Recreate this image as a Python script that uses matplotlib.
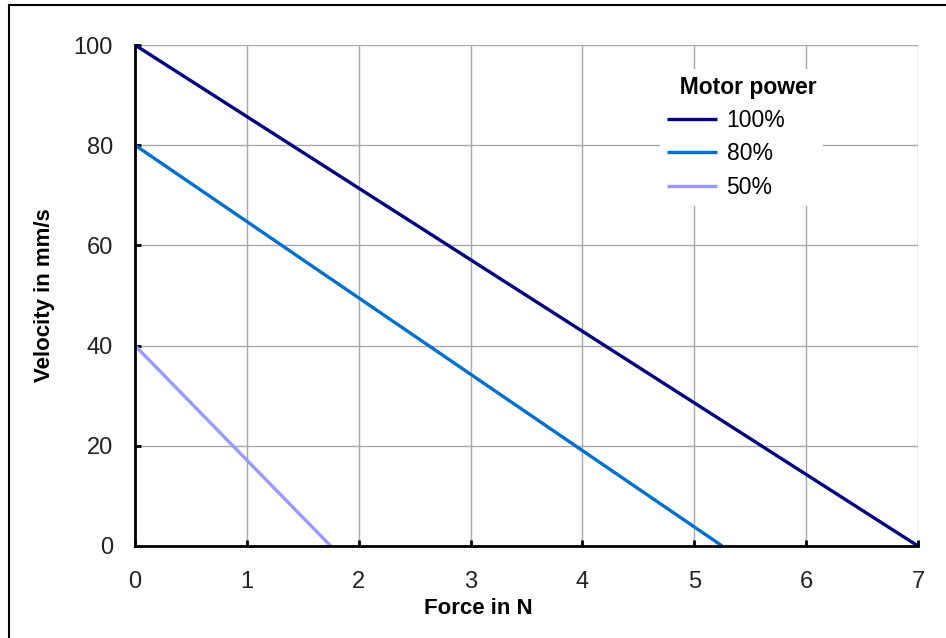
import matplotlib
matplotlib.use("Agg")
import matplotlib.pyplot as plt
from matplotlib.lines import Line2D

# Data: straight force/velocity lines per motor power
series_labels = ["100%", "80%", "50%"]
force_100 = [0, 7.0]
velocity_100 = [100, 0]
force_80 = [0, 5.25]
velocity_80 = [80, 0]
force_50 = [0, 1.75]
velocity_50 = [40, 0]
colors = ["#000080", "#0070d0", "#9999ff"]

x_ticks = [0, 1, 2, 3, 4, 5, 6, 7]
y_ticks = [0, 20, 40, 60, 80, 100]

plt.rcParams["font.family"] = ["Liberation Sans", "DejaVu Sans"]

fig = plt.figure(figsize=(9.46, 6.38), dpi=100)
ax = fig.add_axes([135 / 946, 1 - 546 / 638, 783 / 946, 501 / 638])

# Border of the chart area (only top and left visible)
fig.add_artist(Line2D([9 / 946, 9 / 946], [0, 1 - 5 / 638], color="black", lw=1.5,
                      transform=fig.transFigure))
fig.add_artist(Line2D([9 / 946, 1], [1 - 5 / 638, 1 - 5 / 638], color="black", lw=1.5,
                      transform=fig.transFigure))

ax.plot(force_100, velocity_100, color=colors[0], lw=2.4, label=series_labels[0],
        solid_capstyle="butt", zorder=3)
ax.plot(force_80, velocity_80, color=colors[1], lw=2.4, label=series_labels[1],
        solid_capstyle="butt", zorder=3)
ax.plot(force_50, velocity_50, color=colors[2], lw=2.4, label=series_labels[2],
        solid_capstyle="butt", zorder=3)

ax.set_xlim(0, 7)
ax.set_ylim(0, 100)
ax.set_xticks(x_ticks)
ax.set_yticks(y_ticks)
ax.grid(True, color="#a8a8a8", lw=1.0)
ax.set_axisbelow(True)

for side in ["top", "right"]:
    ax.spines[side].set_visible(False)
for side in ["left", "bottom"]:
    ax.spines[side].set_linewidth(2)
    ax.spines[side].set_zorder(4)

ax.tick_params(axis="both", direction="in", length=4, width=2, color="black",
               labelsize=17, labelcolor="#222222")
ax.tick_params(axis="y", pad=16)
ax.tick_params(axis="x", pad=18)

fig.text(478 / 946, 1 - 608 / 638, "Force in N", fontsize=16, fontweight="bold",
         ha="center", va="center")
fig.text(45 / 946, 1 - 295 / 638, "Velocity in mm/s", fontsize=16, fontweight="bold",
         ha="center", va="center", rotation=90)

# title indented a little relative to the handles, as in the original
leg = ax.legend(title="  Motor power", loc="upper left", bbox_to_anchor=(0.656, 0.975),
                fontsize=16.5, frameon=True, fancybox=False, framealpha=1,
                edgecolor="none", facecolor="white", handlelength=2.2,
                handletextpad=0.4, labelspacing=0.45, borderpad=0.3)
leg.get_title().set_fontweight("bold")
leg.get_title().set_fontsize(16.5)
leg._legend_box.align = "left"

fig.savefig("out.png", dpi=100)
